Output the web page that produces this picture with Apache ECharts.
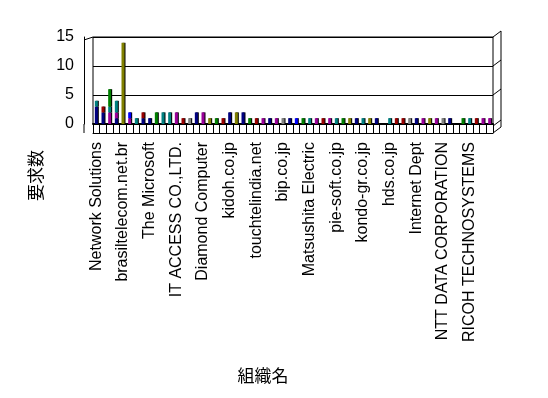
<!DOCTYPE html>
<html>
<head>
<meta charset="utf-8">
<script src="https://cdn.jsdelivr.net/npm/echarts@6/dist/echarts.min.js"></script>
<style>
html, body { margin: 0; padding: 0; background: #fff; }
#main { width: 548px; height: 398px; }
</style>
</head>
<body>
<div id="main"></div>
<script>
var myChart = echarts.init(document.getElementById('main'));

// 読み取れた組織名 (4件ごとに表示)
var shownNames = ['Network Solutions', 'brasiltelecom.net.br', 'The Microsoft', 'IT ACCESS CO.,LTD.',
    'Diamond Computer', 'kidoh.co.jp', 'touchtelindia.net', 'bip.co.jp', 'Matsushita Electric',
    'pie-soft.co.jp', 'kondo-gr.co.jp', 'hds.co.jp', 'Internet Dept', 'NTT DATA CORPORATION',
    'RICOH TECHNOSYSTEMS'];
var categoryCount = 60;
var categories = [];
for (var i = 0; i < categoryCount; i++) {
    categories.push(i % 4 === 0 ? shownNames[i / 4] : '');
}

// 系列ごとの要求数
var navy   = [3,2,0,1,0,0,0,1,1,0, 0,0,0,0,0,2,0,0,0,0, 2,0,2,0,0,0,1,0,0,1, 0,0,0,0,0,0,0,0,0,1, 0,0,1,0,0,0,0,0,1,0, 0,0,0,1,0,0,0,0,0,0];
var purple = [0,0,2,1,0,1,0,0,0,0, 0,0,2,0,0,0,2,0,0,0, 0,0,0,0,0,1,0,1,0,0, 0,0,0,1,0,1,0,0,0,0, 0,0,0,0,0,0,0,0,0,1, 0,1,0,0,0,0,0,0,1,1];
var blue   = [0,0,0,0,0,1,0,0,0,0, 0,0,0,0,0,0,0,0,0,0, 0,0,0,0,0,0,0,0,0,0, 1,0,0,0,0,0,0,0,0,0, 0,0,0,0,0,0,0,0,0,0, 0,0,0,0,0,0,0,0,0,0];
var teal   = [1,0,1,2,0,0,1,0,0,0, 2,2,0,0,0,0,0,0,0,0, 0,0,0,0,0,0,0,0,0,0, 0,0,1,0,0,0,1,0,0,0, 1,0,0,0,1,0,0,0,0,0, 0,0,0,0,0,0,1,0,0,0];
var maroon = [0,1,0,0,0,0,0,1,0,0, 0,0,0,1,0,0,0,0,0,1, 0,0,0,0,1,0,0,0,0,0, 0,0,0,0,1,0,0,0,0,0, 0,0,0,0,0,1,1,0,0,0, 0,0,0,0,0,0,0,1,0,0];
var green  = [0,0,3,0,0,0,0,0,0,2, 0,0,0,0,0,0,0,0,1,0, 0,0,0,1,0,0,0,0,0,0, 0,1,0,0,0,0,0,1,0,0, 0,0,0,0,0,0,0,0,0,0, 0,0,0,0,0,1,0,0,0,0];
var olive  = [0,0,0,0,14,0,0,0,0,0, 0,0,0,0,0,0,0,1,0,0, 0,2,0,0,0,0,0,0,0,0, 0,0,0,0,0,0,0,0,1,0, 0,1,0,0,0,0,0,0,0,0, 1,0,0,0,0,0,0,0,0,0];
var gray   = [0,0,0,0,0,0,0,0,0,0, 0,0,0,0,1,0,0,0,0,0, 0,0,0,0,0,0,0,0,1,0, 0,0,0,0,0,0,0,0,0,0, 0,0,0,0,0,0,0,1,0,0, 0,0,1,0,0,0,0,0,0,0];

var yTicks = [0, 5, 10, 15];

var groups = [
    {name: '系列1', data: navy,   color: '#000080'},
    {name: '系列2', data: purple, color: '#990099'},
    {name: '系列3', data: blue,   color: '#0000ff'},
    {name: '系列4', data: teal,   color: '#008080'},
    {name: '系列5', data: maroon, color: '#990000'},
    {name: '系列6', data: green,  color: '#008000'},
    {name: '系列7', data: olive,  color: '#808000'},
    {name: '系列8', data: gray,   color: '#808080'}
];

var series = groups.map(function (g) {
    return {
        name: g.name,
        type: 'bar',
        stack: 'total',
        barWidth: 3,
        data: g.data,
        itemStyle: {
            color: g.color,
            shadowColor: '#000',
            shadowOffsetX: 1,
            shadowBlur: 0
        }
    };
});

var latin = '"Liberation Sans", Arial, sans-serif';
var jp = '"Noto Sans CJK JP", sans-serif';

option = {
    animation: false,
    backgroundColor: '#fff',
    grid: {
        left: 93,
        right: 55,
        top: 37,
        bottom: 274,
        show: true,
        borderColor: '#000',
        borderWidth: 1
    },
    xAxis: [{
        type: 'category',
        data: categories,
        name: '組織名',
        nameLocation: 'middle',
        nameGap: 243,
        nameTextStyle: {color: '#000', fontSize: 17, fontFamily: jp, padding: [0, 60, 0, 0]},
        axisLine: {lineStyle: {color: '#000', width: 2}},
        axisTick: {show: true, interval: 0, length: 9, lineStyle: {color: '#000'}},
        axisLabel: {
            interval: 3,
            rotate: 90,
            margin: 18,
            color: '#000',
            fontSize: 16,
            fontFamily: latin
        }
    }, {
        type: 'category',
        data: categories,
        position: 'bottom',
        offset: 9,
        axisLine: {lineStyle: {color: '#000', width: 1}},
        axisTick: {show: false},
        axisLabel: {show: false}
    }],
    yAxis: {
        type: 'value',
        min: yTicks[0],
        max: yTicks[yTicks.length - 1],
        interval: 5,
        offset: 9,
        name: '要求数',
        nameLocation: 'middle',
        nameRotate: 90,
        nameGap: 40,
        nameTextStyle: {color: '#000', fontSize: 17, fontFamily: jp, padding: [0, 190, 0, 0]},
        axisLine: {show: true, lineStyle: {color: '#000'}},
        axisTick: {show: false},
        axisLabel: {color: '#000', fontSize: 16, fontFamily: latin, margin: 10},
        splitLine: {lineStyle: {color: '#000', width: 1}}
    },
    graphic: [
        // 3D風の枠
        {type: 'polyline', shape: {points: [[84, 40], [93, 37]]}, style: {stroke: '#000', fill: null}},
        {type: 'polyline', shape: {points: [[84, 124], [84, 133]]}, style: {stroke: '#000', fill: null}},
        {type: 'polyline', shape: {points: [[493, 37], [501, 31], [501, 120], [493, 126]]}, style: {stroke: '#000', fill: null}},
        {type: 'polyline', shape: {points: [[493, 66], [501, 60]]}, style: {stroke: '#000', fill: null}},
        {type: 'polyline', shape: {points: [[493, 95], [501, 89]]}, style: {stroke: '#000', fill: null}},
        {type: 'polyline', shape: {points: [[493, 133], [501, 127], [501, 120]]}, style: {stroke: '#000', fill: null}}
    ],
    series: series
};

myChart.setOption(option);
</script>
</body>
</html>
